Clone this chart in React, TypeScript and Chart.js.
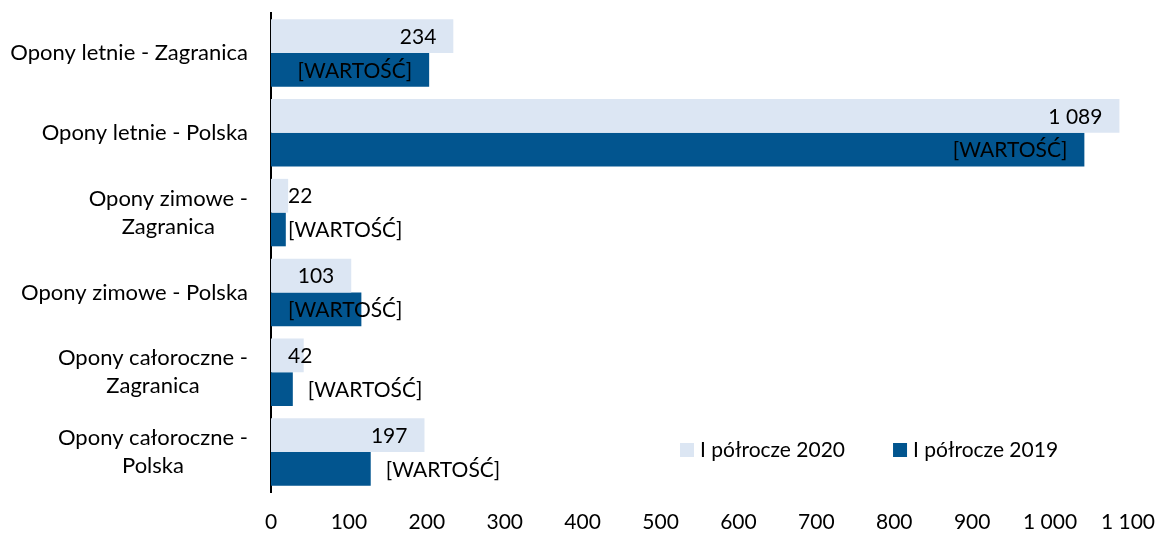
import React, { useEffect, useRef } from 'react';
import { Chart, registerables } from 'chart.js';

Chart.register(...registerables);

// ---- data ----
const categories: string[][] = [
  ['Opony letnie - Zagranica'],
  ['Opony letnie - Polska'],
  ['Opony zimowe -', 'Zagranica'],
  ['Opony zimowe - Polska'],
  ['Opony całoroczne -', 'Zagranica'],
  ['Opony całoroczne -', 'Polska'],
];
const seriesLabels = ['I półrocze 2020', 'I półrocze 2019'];
const values2020 = [234, 1089, 22, 103, 42, 197];
const values2019 = [203, 1044, 19, 116, 28, 128];
const placeholderLabel = '[WARTOŚĆ]';
const xMin = 0;
const xMax = 1100;
const xStep = 100;

// ---- style ----
const FONT = 'Lato';
const FONT_SIZE = 21;
const CAT_FONT_SIZE = 22;
const TEXT = '#000000';
const LIGHT = '#DCE6F3';
const DARK = '#02558F';
const labelAnchors2020 = ['end', 'end', 'end', 'end', 'end', 'end'];
const labelAnchors2019 = ['end', 'end', 'end', 'end', 'outside', 'outside'];

const fmt = (v: number) => String(Math.round(v)).replace(/\B(?=(\d{3})+(?!\d))/g, ' ');

const valueLabelsPlugin = {
  id: 'valueLabels',
  afterDatasetsDraw(chart: any) {
    const ctx = chart.ctx;
    const left = chart.chartArea.left;
    const texts = [values2020.map(fmt), values2019.map(() => placeholderLabel)];
    const anchors = [labelAnchors2020, labelAnchors2019];
    ctx.save();
    ctx.font = `${FONT_SIZE}px ${FONT}`;
    ctx.fillStyle = TEXT;
    ctx.textBaseline = 'middle';
    ctx.textAlign = 'left';
    chart.data.datasets.forEach((_ds: any, di: number) => {
      const meta = chart.getDatasetMeta(di);
      meta.data.forEach((bar: any, i: number) => {
        const text = texts[di][i];
        const w = ctx.measureText(text).width;
        let x: number;
        if (anchors[di][i] === 'outside') {
          x = bar.x + 15;
        } else {
          x = bar.x - 17 - w;
          if (x < left + 17) x = left + 17;
        }
        ctx.fillText(text, x, bar.y + 1);
      });
    });
    ctx.restore();
  },
};

const categoryLabelsPlugin = {
  id: 'categoryLabels',
  afterDraw(chart: any) {
    const ctx = chart.ctx;
    const yScale = chart.scales.y;
    const right = chart.chartArea.left - 23;
    const lineH = 28;
    ctx.save();
    ctx.font = `${CAT_FONT_SIZE}px ${FONT}`;
    ctx.fillStyle = TEXT;
    ctx.textBaseline = 'middle';
    categories.forEach((lines, i) => {
      const y = yScale.getPixelForValue(i);
      if (lines.length === 1) {
        ctx.textAlign = 'right';
        ctx.fillText(lines[0], right, y);
      } else {
        const w = Math.max(...lines.map((l) => ctx.measureText(l).width));
        const cx = right - w / 2;
        ctx.textAlign = 'center';
        lines.forEach((l, j) => {
          ctx.fillText(l, cx, y + (j - (lines.length - 1) / 2) * lineH);
        });
      }
    });
    ctx.restore();
  },
};

const legendPlugin = {
  id: 'customLegend',
  afterDraw(chart: any) {
    const ctx = chart.ctx;
    const colors = [LIGHT, DARK];
    const startX = 680;
    const gap = 48;
    const cy = 450;
    const box = 14;
    ctx.save();
    ctx.font = `${FONT_SIZE}px ${FONT}`;
    ctx.fillStyle = TEXT;
    ctx.textBaseline = 'middle';
    ctx.textAlign = 'left';
    let x = startX;
    seriesLabels.forEach((lab, i) => {
      ctx.fillStyle = colors[i];
      ctx.fillRect(x, cy - box / 2, box, box);
      ctx.fillStyle = TEXT;
      ctx.fillText(lab, x + box + 6, cy);
      x += box + 6 + ctx.measureText(lab).width + gap;
    });
    ctx.restore();
  },
};

export default function App() {
  const ref = useRef<HTMLCanvasElement | null>(null);
  useEffect(() => {
    document.body.style.margin = '0';
    if (!ref.current) return;
    const chart = new Chart(ref.current, {
      type: 'bar',
      data: {
        labels: categories.map((c) => c.join(' ')),
        datasets: [
          {
            label: seriesLabels[0],
            data: values2020,
            backgroundColor: LIGHT,
            borderWidth: 0,
            categoryPercentage: 0.845,
            barPercentage: 1,
          },
          {
            label: seriesLabels[1],
            data: values2019,
            backgroundColor: DARK,
            borderWidth: 0,
            categoryPercentage: 0.845,
            barPercentage: 1,
          },
        ],
      },
      options: {
        indexAxis: 'y',
        animation: false,
        responsive: false,
        devicePixelRatio: 1,
        layout: { padding: { top: 13, right: 32, left: 0, bottom: 0 } },
        plugins: { legend: { display: false }, tooltip: { enabled: false } },
        scales: {
          x: {
            min: xMin,
            max: xMax,
            grid: { display: false, drawTicks: false },
            border: { display: false },
            ticks: {
              stepSize: xStep,
              padding: 18,
              color: TEXT,
              font: { family: FONT, size: FONT_SIZE },
              maxRotation: 0,
              callback: (v: any) => fmt(Number(v)),
            },
            afterFit: (s: any) => {
              s.height = 41;
              s.paddingLeft = 0;
              s.paddingRight = 0;
            },
          },
          y: {
            grid: { display: false, drawTicks: false },
            border: { display: true, color: '#000000', width: 2 },
            ticks: { display: false },
            afterFit: (s: any) => {
              s.width = 271;
              s.paddingTop = 0;
              s.paddingBottom = 0;
            },
          },
        },
      },
      plugins: [valueLabelsPlugin, categoryLabelsPlugin, legendPlugin],
    });
    return () => chart.destroy();
  }, []);
  return (
    <div style={{ width: 1160, height: 533 }}>
      <canvas ref={ref} width={1160} height={533} style={{ display: 'block' }} />
    </div>
  );
}
